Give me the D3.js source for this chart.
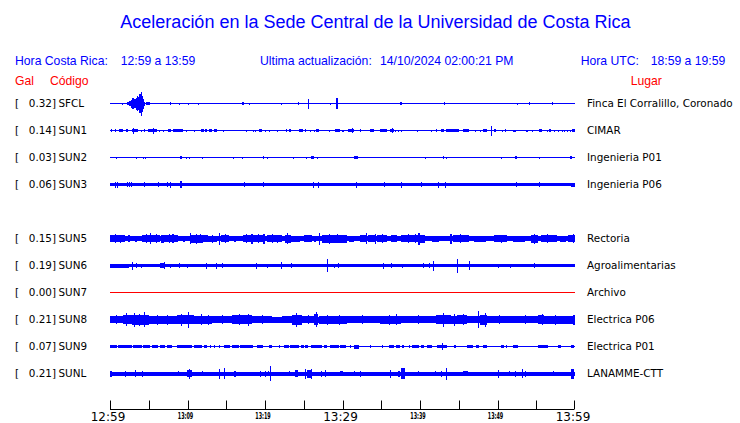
<!DOCTYPE html>
<html><head><meta charset="utf-8">
<script src="https://cdn.jsdelivr.net/npm/d3@7"></script>
<style>body{margin:0;background:#fff}svg{display:block}</style>
</head><body><svg id="c" width="740" height="423"></svg>
<script>
// ---------- data ----------
const titleText = "Aceleración en la Sede Central de la Universidad de Costa Rica";
const headerTexts = ["Hora Costa Rica:", "12:59 a 13:59", "Ultima actualización:", "14/10/2024 02:00:21 PM", "Hora UTC:", "18:59 a 19:59"];
const columnTexts = ["Gal", "Código", "Lugar"];

const stationCodes = ["SFCL","SUN1","SUN2","SUN3","SUN5","SUN6","SUN7","SUN8","SUN9","SUNL"];
const stationPGA   = [0.32, 0.14, 0.03, 0.06, 0.15, 0.19, 0.00, 0.21, 0.07, 0.21];
const stationPlaces = ["Finca El Corralillo, Coronado","CIMAR","Ingenieria P01","Ingenieria P06","Rectoria","Agroalimentarias","Archivo","Electrica P06","Electrica P01","LANAMME-CTT"];
const stationSlots = [0,1,2,3,5,6,7,8,9,10];
const stationStatus = ["ok","ok","ok","ok","ok","ok","off","ok","ok","ok"];
// noise floor half-amplitude (relative units)
const stationBase = [0.5, 0.5, 0.5, 1.5, 2.5, 1.5, 0.5, 3, 0.5, 2];

// bursts: [start minute, end minute, half-amplitude]
const eventsSFCL = [[1.6,1.6,1],[2.2,2.5,1.5],[2.5,2.75,2.5],[2.75,2.9,4],[2.9,3.1,5.5],[3.1,3.3,4.5],[3.3,3.5,6],[3.5,3.65,7.5],[3.65,3.8,6.5],[3.8,3.95,9.5],[3.95,4.1,12],[4.1,4.25,8],[4.25,4.4,5],[4.4,4.55,2],[4.6,5.1,1.5],[7.7,7.85,1.5],[8.84,8.84,1],[10.1,10.1,1],[11.3,11.3,1],[17.0,17.25,1.5],[17.9,17.9,1],[22.0,22.0,1],[24.2,24.2,1.5],[25.5,25.65,5],[28.4,28.4,1],[29.1,29.45,5.5],[37.4,37.7,1.5],[43.1,43.1,1.5],[52.5,52.5,1],[54.1,54.1,1.5],[57.0,57.2,1.5]];
const eventsSUN1 = [[0.13,0.26,1.5],[0.65,0.78,1.5],[1.2,1.72,1.5],[2.07,2.37,1.5],[2.8,3.66,1.5],[3.0,3.0,3],[3.97,3.97,1],[4.44,4.44,1.5],[4.96,6.03,1.5],[5.6,5.6,3],[6.38,6.38,1],[6.9,6.9,1],[7.46,7.89,1.5],[8.1,9.4,1.5],[9.83,9.83,1],[10.8,10.8,1],[11.7,12.1,1.5],[12.3,12.5,1.5],[12.8,13.1,1.5],[13.4,13.8,1.5],[14.6,14.6,1],[17.5,17.5,1],[18.4,18.4,1],[18.7,18.7,1],[19.2,19.6,1.5],[20.0,20.0,1],[20.5,20.5,1],[21.55,21.55,1],[22.7,22.9,1.5],[23.1,23.4,1.5],[24.35,24.9,1.5],[25.1,25.3,1.5],[25.8,25.8,1],[26.3,26.3,1],[26.6,27.0,1.5],[28.2,28.2,1],[29.0,29.7,1.5],[29.96,30.2,1],[30.7,31.5,1.5],[31.25,31.25,2.5],[32.2,32.4,1.5],[33.6,34.1,1.5],[34.8,35.8,1.5],[36.1,36.7,1.5],[36.4,36.4,2.5],[36.8,36.8,1],[37.1,37.1,1],[37.5,37.5,1],[39.65,39.65,1],[41.4,41.4,1],[42.0,42.2,1.5],[42.7,43.1,1.5],[43.4,45.0,1.5],[45.6,46.3,1.5],[47.1,47.1,1],[47.8,47.8,1],[48.1,48.6,1.5],[49.2,49.2,5],[49.5,49.8,1.5],[50.6,50.6,1],[51.0,51.0,1.5],[52.0,52.4,1],[53.7,53.9,1],[54.4,54.4,1],[55.4,55.7,1.5],[56.4,56.4,1],[56.6,56.9,1.5],[57.3,57.3,1],[57.8,57.8,1],[58.3,58.3,1],[58.6,58.6,1],[59.0,59.0,1],[59.3,59.3,1],[59.6,60,1.5]];
const eventsSUN2 = [[0.78,0.78,1],[3.36,3.36,1],[4.3,4.3,1],[4.5,4.5,1],[9.05,9.27,1.5],[9.8,9.8,1],[10.2,10.2,1],[11.9,11.9,1],[15.9,15.9,1],[17.0,17.0,1],[19.7,19.7,1.5],[20.3,20.3,1],[23.6,23.6,1],[25.3,25.3,1],[25.9,26.3,1.5],[26.7,26.7,1],[31.5,31.98,1.5],[40.6,40.6,1],[43.0,43.0,1.5],[43.3,43.3,1],[50.5,50.5,1],[52.3,52.5,1.5],[55.3,55.3,1],[59.3,59.6,1.5]];
const eventsSUN3 = [[0.65,0.65,3],[0.86,0.86,3],[2.2,2.2,2.5],[2.5,2.5,2.5],[2.7,2.7,2.5],[4.4,4.4,2.5],[6.2,6.2,2.5],[7.3,7.3,2.5],[7.8,7.8,3],[8.97,9.3,3.5],[17.3,17.3,2.5],[19.7,19.7,2.5],[26.2,26.2,3],[26.8,26.8,3],[31.7,31.7,3],[35.3,35.3,2.5],[37.5,37.5,3],[40.1,40.1,2.5],[42.3,42.3,3],[43.2,43.2,3],[52.4,52.4,2.5],[55.4,55.4,2.5],[59.5,60,2]];
const eventsSUN5 = [[0,1.9,3.5],[0.6,0.6,4.5],[1.3,1.3,4],[2.3,2.6,3.5],[3.2,3.5,3],[4.1,5.2,3.5],[4.6,4.6,4.5],[5.2,5.3,5.5],[5.3,6.5,3.5],[5.9,5.9,4.5],[6.6,7.0,4],[7.0,8.0,3.5],[7.6,7.6,4.5],[8.0,8.3,4.5],[8.3,8.8,3.5],[9.4,9.7,3],[10.3,10.4,5.5],[10.4,12.0,4],[11.1,11.1,5],[11.6,11.6,4.5],[12.0,12.7,3.5],[12.7,13.8,3],[13.2,13.2,4],[14.1,14.2,6],[14.3,15.3,3.5],[14.8,14.8,4.5],[16.0,16.3,3],[17.2,18.2,3.5],[17.6,17.6,4.5],[18.2,18.4,5],[18.5,19.8,3.5],[19.1,19.1,4.5],[19.8,20.0,5],[20.2,22.2,3.5],[20.9,20.9,4.5],[21.6,21.6,4],[22.6,23.3,4],[22.9,22.9,5.5],[23.3,24.5,3],[25.0,26.0,3.5],[26.3,26.6,3],[27.0,27.1,6],[27.4,30.6,4],[28.2,28.2,5],[29.3,29.3,4.5],[30.8,31.5,3],[32.3,33.0,3.5],[33.0,33.1,5.5],[33.3,34.2,3.5],[34.2,34.3,5],[34.5,35.8,3.5],[35.1,35.1,4.5],[36.2,37.0,3.5],[37.5,39.8,3.5],[38.4,38.4,4.5],[39.3,39.3,4.5],[39.8,40.0,6],[40.0,40.7,4],[41.5,42.5,3],[43.9,44.1,5],[44.3,46.3,3.5],[45.2,45.2,4.5],[47.0,48.5,3],[49.5,51.2,3.5],[50.4,50.4,4],[52.0,53.5,3],[54.3,55.2,4],[54.7,54.7,5],[55.6,57.7,3.5],[56.4,56.4,4.5],[58.0,58.8,3],[59.1,60,3.5],[59.7,59.7,4.5]];
const eventsSUN6 = [[0,2.5,2],[2.8,2.85,4],[3.3,3.3,2.5],[4.0,4.0,2],[6.5,7.1,2.5],[6.95,7.0,3.5],[7.8,7.8,2],[8.9,8.9,2.5],[9.9,9.9,2],[12.4,12.4,3],[13.7,13.7,3],[14.5,14.5,2.5],[18.9,19.0,3],[20.3,20.3,2],[22.1,22.1,3.5],[23.4,23.4,2.5],[28.0,28.05,6.5],[28.9,28.9,2],[29.4,29.4,2.5],[35.2,35.2,3],[36.3,36.3,2.5],[37.7,37.7,2],[40.4,40.4,2.5],[41.2,41.2,2.5],[41.7,41.75,5],[44.8,44.85,7],[46.3,46.3,4.5],[50.0,50.0,2],[51.6,51.6,2],[54.7,54.7,2.5]];
const eventsSUN7 = [];
const eventsSUN8 = [[0,1.7,3.5],[0.8,0.8,4.5],[1.7,2.8,4.5],[2.1,2.2,6.5],[2.8,5.0,5],[3.1,3.2,7],[3.7,3.7,6],[4.4,4.5,7.5],[5.0,8.6,4],[6.0,6.1,5],[7.3,7.3,5],[8.6,10.8,4.5],[9.2,9.2,6],[10.0,10.1,8],[10.8,13.1,4],[11.8,11.9,5.5],[12.6,12.6,5],[13.1,15.7,3.5],[14.4,14.4,4.5],[15.7,18.3,4.5],[16.6,16.6,5.5],[17.8,17.9,6],[18.3,20.9,3.5],[19.6,19.6,4.5],[20.9,22.2,3],[22.2,23.5,3.5],[23.5,24.8,5],[24.0,24.1,7],[24.8,26.3,3.5],[25.5,25.5,4.5],[26.3,26.9,5.5],[26.6,26.7,7.5],[27.0,30.6,4],[28.0,28.0,5],[29.5,29.5,5],[30.6,34.9,3.5],[32.5,32.5,4.5],[34.9,37.5,4],[36.0,36.0,5],[36.9,37.0,5.5],[37.5,42.0,3.5],[39.8,39.8,4.5],[42.0,44.0,4.5],[43.0,43.1,7],[44.0,44.8,4],[44.8,46.1,4.5],[44.4,44.5,6],[45.5,45.5,5.5],[46.1,47.8,3.5],[47.5,47.6,8.5],[47.8,48.7,5],[48.4,48.5,7],[48.7,52.1,3.5],[50.2,50.2,4.5],[52.1,55.2,3.5],[53.6,53.6,4.5],[55.2,56.0,4.5],[55.7,55.8,5.5],[56.0,60,4],[57.4,57.4,5],[59.8,60,5]];
const eventsSUN9 = [[0,0.86,1.5],[1.08,2.8,1.5],[3.0,4.1,1.5],[4.2,5.2,1.5],[5.4,6.25,1.5],[6.5,7.1,1.5],[7.3,8.0,1.5],[8.6,10.6,1.5],[10.8,11.85,1.5],[12.1,12.5,1.5],[12.9,12.9,1.5],[13.4,13.4,1.5],[14.0,14.2,1.5],[14.65,15.5,1.5],[15.7,16.6,1.5],[16.8,18.5,1.5],[19.0,19.8,1.5],[20.5,20.9,1.5],[21.8,21.8,1.5],[22.4,23.1,1.5],[23.2,24.35,1.5],[24.6,25.0,1.5],[25.2,25.6,1.5],[25.9,27.4,1.5],[27.6,28.0,1.5],[28.4,29.5,1.5],[29.7,30.4,1.5],[31.0,31.1,1.5],[31.5,32.1,2],[33.6,33.6,1.5],[35.1,35.1,1.5],[36.0,36.6,1.5],[36.9,37.4,1.5],[37.7,37.9,1.5],[38.6,38.6,1.5],[39.0,39.9,1.5],[40.1,40.5,1.5],[40.9,41.6,1.5],[42.2,43.5,1.5],[42.9,42.9,3.5],[44.4,44.7,1.5],[46.1,46.8,1.5],[47.2,47.6,1.5],[48.1,48.7,1.5],[50.4,50.9,1.5],[51.1,51.1,1.5],[52.0,52.7,1.5],[55.2,55.7,1.5],[55.8,56.5,1.5],[57.8,58.2,1.5],[59.5,59.9,1.5]];
const eventsSUNL = [[0,0.2,3],[1.9,1.9,3],[3.2,3.3,3.5],[4.1,4.1,3],[8.8,8.8,2.5],[9.9,10.6,3.5],[10.2,10.3,5],[11.9,11.9,2.5],[14.0,14.05,5],[14.7,14.75,5.5],[16.0,16.2,3],[19.4,19.4,3],[20.0,20.0,3],[20.4,20.4,2.5],[20.7,20.75,7.5],[23.1,23.1,2.5],[23.9,24.3,3.5],[25.2,25.25,5],[25.4,25.9,4],[25.9,25.95,5],[27.2,27.2,3],[27.8,27.8,3.5],[29.7,30.1,2.5],[31.5,31.5,2.5],[32.3,32.3,3],[36.1,36.3,4],[37.1,37.4,3],[37.6,38.0,5.5],[39.7,39.7,2.5],[41.9,41.9,2.5],[42.7,42.9,3],[43.4,43.45,6],[45.5,46.2,2.5],[50.1,50.1,4],[51.5,51.5,2.5],[52.2,52.2,3],[53.1,53.1,4.5],[53.6,53.6,3],[57.1,57.1,2.5],[59.5,59.9,5]];
const stationEvents = [eventsSFCL,eventsSUN1,eventsSUN2,eventsSUN3,eventsSUN5,eventsSUN6,eventsSUN7,eventsSUN8,eventsSUN9,eventsSUNL];

const tickMinutes = [0,5,10,15,20,25,30,35,40,45,50,55,60];
const labelMinutes = [0,10,20,30,40,50,60];
const labelTexts = ["12:59","13:09","13:19","13:29","13:39","13:49","13:59"];
const majorLabels = ["12:59","13:29","13:59"];

// ---------- drawing ----------
const svg = d3.select("#c");
const BLUE = "#0000ff", RED = "#ff0000";
const x = d3.scaleLinear().domain([0, 60]).range([110, 575]);
const ySlot = d3.scaleLinear().domain([0, 10]).range([103.5, 373.5]);
const amp = d3.scaleLinear().domain([0, 1]).range([0, 1]);

svg.append("text").attr("x", 375.5).attr("y", 28).attr("text-anchor", "middle")
  .attr("font-family", "Liberation Sans, Arial, sans-serif").attr("font-size", 18)
  .attr("fill", BLUE).text(titleText);

const headerX = [15, 120.7, 260, 380, 580.7, 650.7];
svg.selectAll("text.hdr").data(headerTexts).join("text").attr("class","hdr")
  .attr("x", (d,i) => headerX[i]).attr("y", 65)
  .attr("font-family", "Liberation Sans, Arial, sans-serif").attr("font-size", 12.2)
  .attr("fill", BLUE).text(d => d);

const colX = [15, 50, 630.7];
svg.selectAll("text.col").data(columnTexts).join("text").attr("class","col")
  .attr("x", (d,i) => colX[i]).attr("y", 85)
  .attr("font-family", "Liberation Sans, Arial, sans-serif").attr("font-size", 12.2)
  .attr("fill", RED).text(d => d);

const rows = svg.selectAll("g.row").data(stationCodes).join("g").attr("class", "row")
  .attr("transform", (d,i) => `translate(0,${ySlot(stationSlots[i])})`);

const labFont = "DejaVu Sans, sans-serif", labSize = 10.4;
rows.append("text").attr("x", 15).attr("y", 3.7).attr("font-family", labFont).attr("font-size", labSize).text("[");
rows.append("text").attr("x", 56).attr("y", 3.7).attr("text-anchor", "end").attr("font-family", labFont).attr("font-size", labSize)
  .text((d,i) => stationPGA[i].toFixed(2) + "]");
rows.append("text").attr("x", 58.5).attr("y", 3.7).attr("font-family", labFont).attr("font-size", labSize).text(d => d);
rows.append("text").attr("x", 587).attr("y", 3.7).attr("font-family", labFont).attr("font-size", labSize)
  .text((d,i) => stationPlaces[i]);

rows.each(function(code, i) {
  const g = d3.select(this).append("g").attr("shape-rendering", "crispEdges")
    .attr("fill", stationStatus[i] === "off" ? RED : BLUE);
  g.append("rect").attr("x", x(0)).attr("width", x(60) - x(0))
    .attr("y", -amp(stationBase[i])).attr("height", 2 * amp(stationBase[i]));
  g.selectAll("rect.ev").data(stationEvents[i]).join("rect").attr("class", "ev")
    .attr("x", d => x(d[0]))
    .attr("width", d => Math.max(1, x(d[1]) - x(d[0])))
    .attr("y", d => -amp(d[2])).attr("height", d => 2 * amp(d[2]));
});

// time axis
const axisG = svg.append("g").attr("transform", "translate(0,409.5)");
const axis = d3.axisTop(x).tickValues(tickMinutes).tickSize(9).tickSizeOuter(0).tickFormat("");
axisG.call(axis);
axisG.select(".domain").attr("stroke", "#000").attr("d", `M${x(0)},0H${x(60)-1}`);
axisG.selectAll(".tick line").attr("stroke", "#000");
axisG.selectAll(".tick").attr("transform", d => `translate(${Math.round(x(d) - (d === 60 ? 1 : 0)) + 0.5},0)`);

svg.selectAll("text.tl").data(labelMinutes).join("text").attr("class", "tl")
  .attr("x", d => x(d) - 2).attr("text-anchor", "middle")
  .attr("y", (d,i) => majorLabels.includes(labelTexts[i]) ? 421 : 418.5)
  .attr("font-family", "DejaVu Sans, sans-serif")
  .attr("font-size", (d,i) => majorLabels.includes(labelTexts[i]) ? 12 : 8)
  .attr("font-weight", (d,i) => majorLabels.includes(labelTexts[i]) ? "normal" : "bold")
  .each(function(d,i){ if (!majorLabels.includes(labelTexts[i])) d3.select(this).attr("textLength", 15.5).attr("lengthAdjust","spacingAndGlyphs"); })
  .text((d,i) => labelTexts[i]);
</script></body></html>
